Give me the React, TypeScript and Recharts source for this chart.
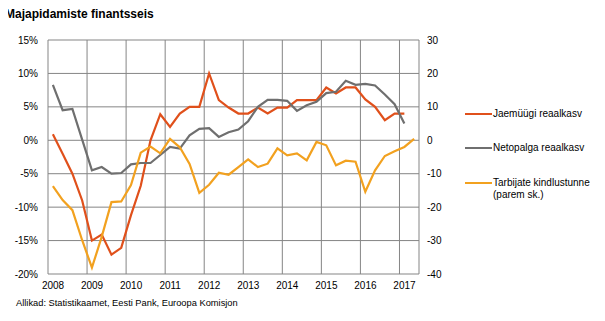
import { LineChart, Line, XAxis, YAxis, CartesianGrid } from "recharts";

// quarterly data, 2008 Q1 .. 2017 Q2
const startYear = 2008;
const yearTicks = [2008, 2009, 2010, 2011, 2012, 2013, 2014, 2015, 2016, 2017, 2017.5];
const leftTicks = [-20, -15, -10, -5, 0, 5, 10, 15];
const rightTicks = [-40, -30, -20, -10, 0, 10, 20, 30];

// Jaemüügi reaalkasv, % (left axis)
const retail = [
    0.9, -2.0, -5.0, -9.0, -15.0, -14.1, -17.1, -16.1, -11.2, -6.8,
    0.0, 3.9, 2.0, 4.0, 5.0, 5.0, 10.0, 6.0, 4.9, 4.0,
    4.0, 4.9, 4.0, 4.9, 4.9, 6.0, 6.0, 6.0, 7.9, 7.0,
    7.9, 7.9, 6.1, 5.0, 3.0, 4.0, 4.0,
];

// Netopalga reaalkasv, % (left axis)
const wages = [
    8.3, 4.5, 4.7, 0.1, -4.5, -4.0, -5.0, -4.9, -3.6, -3.4,
    -3.4, -2.2, -1.0, -1.25, 0.75, 1.7, 1.8, 0.5, 1.2, 1.6,
    2.85, 5.0, 6.05, 6.05, 5.9, 4.4, 5.25, 5.75, 7.05, 7.25,
    8.9, 8.3, 8.45, 8.2, 6.85, 5.4, 2.5,
];

// Tarbijate kindlustunne (right axis)
const confidence = [
    -13.7, -17.9, -20.9, -29.9, -38.1, -28.9, -18.5, -18.3, -13.4, -3.7,
    -1.9, -3.9, 0.4, -2.1, -7.1, -15.7, -13.3, -9.7, -10.3, -8.0,
    -5.7, -8.0, -7.0, -2.4, -4.5, -3.9, -6.0, -0.5, -1.5, -7.5,
    -6.1, -6.4, -15.4, -9.0, -4.7, -3.3, -2.0, 0.4,
];

const series = [
    { key: "retail", name: "Jaemüügi reaalkasv", color: "#e0501b", axis: "left" },
    { key: "wages", name: "Netopalga reaalkasv", color: "#6f6f6f", axis: "left" },
    { key: "confidence", name: "Tarbijate kindlustunne\n(parem sk.)", color: "#f2a11f", axis: "right" },
];

const chartData = confidence.map((c, i) => ({
    t: startYear + i / 4 + 0.125,
    retail: retail[i],
    wages: wages[i],
    confidence: c,
}));

const FONT = "'Liberation Sans', Arial, sans-serif";

const YearTick = ({ x, y, payload }: any) => {
    if (!Number.isInteger(payload.value)) return null;
    return (
        <text x={x + 5} y={y} dy="0.71em" textAnchor="middle" fontSize={10} fill="#000" fontFamily={FONT}>
            {payload.value}
        </text>
    );
};

export default function App() {
    return (
        <div style={{ position: "relative", width: 605, height: 321, margin: -8, background: "#fff", fontFamily: FONT, color: "#000" }}>
            <LineChart
                width={605} height={321} data={chartData}
                margin={{ top: 40, right: 146, bottom: 17, left: 0 }}
            >
                <CartesianGrid yAxisId="left" stroke="#858585" strokeWidth={1} />
                <XAxis
                    dataKey="t" type="number" domain={[2008, 2017.5]}
                    ticks={yearTicks} interval={0}
                    tick={<YearTick />} tickLine={false} axisLine={false} height={30} />
                <YAxis
                    yAxisId="left" domain={[-20, 15]} ticks={leftTicks} interval={0}
                    tickFormatter={(v) => `${v}%`} width={48} tickMargin={4}
                    tick={{ fill: "#000", fontSize: 10, fontFamily: FONT }}
                    tickLine={false} axisLine={false} />
                <YAxis
                    yAxisId="right" orientation="right" domain={[-40, 30]} ticks={rightTicks} interval={0}
                    width={40} tickMargin={2}
                    tick={{ fill: "#000", fontSize: 10, fontFamily: FONT }}
                    tickLine={false} axisLine={false} />
                {series.map(s => (
                    <Line
                        key={s.key} yAxisId={s.axis} type="linear" dataKey={s.key}
                        stroke={s.color} strokeWidth={2.2} dot={false}
                        isAnimationActive={false} />
                ))}
            </LineChart>
            <div style={{ position: "absolute", left: 5, top: 7, fontSize: 12, fontWeight: "bold", lineHeight: "14px", zIndex: 2, whiteSpace: "nowrap" }}>
                Majapidamiste finantsseis
            </div>
            <div style={{ position: "absolute", left: 465, top: 108, fontSize: 10, zIndex: 2 }}>
                {series.map(s => (
                    <div key={s.key} style={{ display: "flex", alignItems: "flex-start", height: 34.4 }}>
                        <span style={{ width: 27, borderTop: `2.5px solid ${s.color}`, marginTop: 5 }} />
                        <div style={{ lineHeight: "12px", whiteSpace: "pre", marginLeft: 1 }}>{s.name}</div>
                    </div>
                ))}
            </div>
            <div style={{ position: "absolute", left: 16, top: 298, fontSize: 9.3, lineHeight: "11px", zIndex: 2 }}>
                Allikad: Statistikaamet, Eesti Pank, Euroopa Komisjon
            </div>
        </div>
    );
}
